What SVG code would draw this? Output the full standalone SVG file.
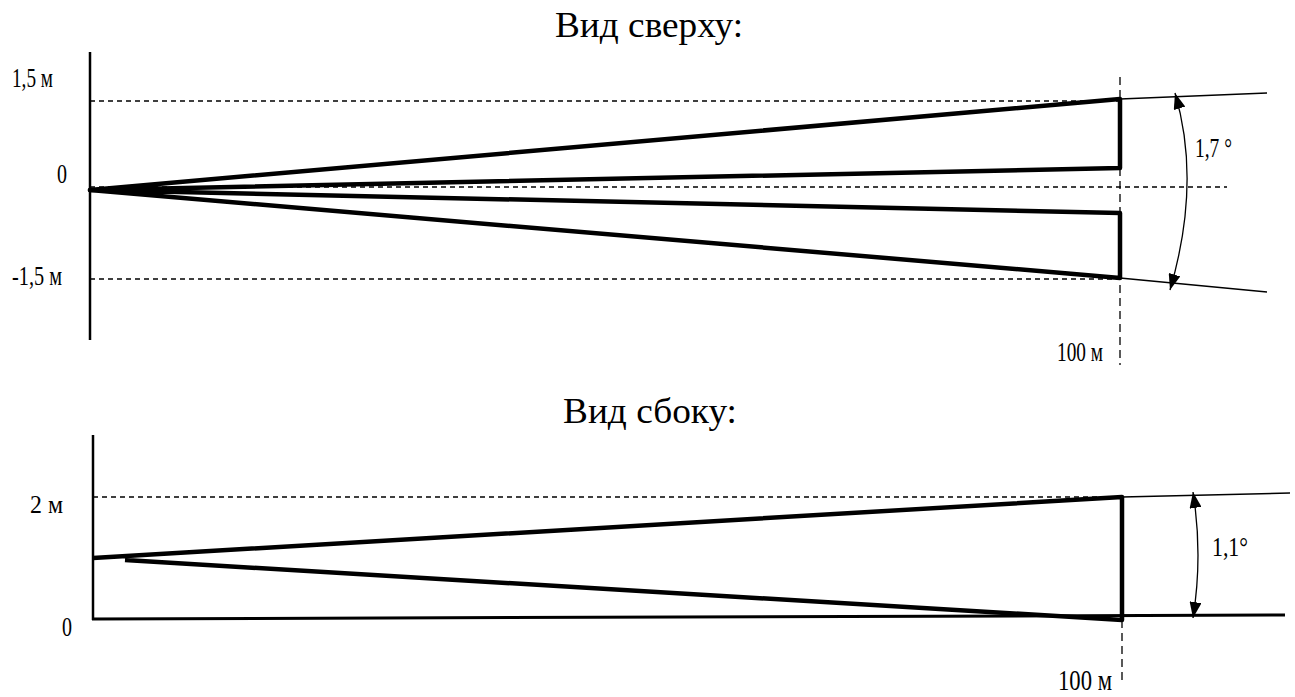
<svg xmlns="http://www.w3.org/2000/svg" width="1295" height="697" viewBox="0 0 1295 697">
<style>
text{font-family:"Liberation Serif","Times New Roman",serif;fill:#000}
.title{font-size:36px}
.lbl{font-size:27px}
.axis{stroke:#000;stroke-width:2.5;fill:none}
.dash{stroke:#000;stroke-width:1.3;stroke-dasharray:5 4;fill:none}
.vdash{stroke:#000;stroke-width:1.3;stroke-dasharray:8 5;fill:none}
.beam{stroke:#000;stroke-width:4.5;fill:none;stroke-linejoin:round}
.thin{stroke:#000;stroke-width:1.5;fill:none}
.arc{stroke:#000;stroke-width:1.3;fill:none;marker-start:url(#ah);marker-end:url(#ah)}
</style>
<defs>
<marker id="ah" markerUnits="userSpaceOnUse" markerWidth="18" markerHeight="12" refX="16" refY="6" orient="auto-start-reverse">
<path d="M0,0 L16,6 L0,12 z" fill="#000"/>
</marker>
</defs>
<rect width="1295" height="697" fill="#fff"/>
<g id="top-view">
<text class="title" x="649" y="37" text-anchor="middle" textLength="188" lengthAdjust="spacingAndGlyphs">Вид сверху:</text>
<g id="top-axes">
<line class="axis" x1="90" y1="52" x2="90" y2="340"/>
<line class="dash" x1="90" y1="101" x2="1120" y2="101"/>
<line class="dash" x1="90" y1="279" x2="1120" y2="279"/>
<line class="dash" x1="90" y1="187" x2="1227" y2="187"/>
<line class="vdash" x1="1120" y1="77" x2="1120" y2="365"/>
</g>
<g id="top-labels">
<text class="lbl" x="12" y="87" textLength="41" lengthAdjust="spacingAndGlyphs">1,5 м</text>
<text class="lbl" x="57" y="183" textLength="10" lengthAdjust="spacingAndGlyphs">0</text>
<text class="lbl" x="12" y="285" textLength="50" lengthAdjust="spacingAndGlyphs">-1,5 м</text>
<text class="lbl" x="1057" y="361" textLength="46" lengthAdjust="spacingAndGlyphs">100 м</text>
<text class="lbl" x="1195" y="157" textLength="37" lengthAdjust="spacingAndGlyphs">1,7 °</text>
</g>
<g id="top-beams">
<path class="beam" d="M90,190 L1120,99 L1120,168 Z"/>
<path class="beam" d="M90,190 L1120,213 L1120,278 Z"/>
</g>
<g id="top-connectors">
<line class="thin" x1="1120" y1="99" x2="1267" y2="93"/>
<line class="thin" x1="1120" y1="278" x2="1267" y2="292"/>
<path class="arc" d="M1175,93 Q1201.5,182.5 1170,290"/>
</g>
</g>
<g id="side-view">
<text class="title" x="650" y="423" text-anchor="middle" textLength="174" lengthAdjust="spacingAndGlyphs">Вид сбоку:</text>
<g id="side-axes">
<line class="axis" x1="93" y1="435" x2="93" y2="620"/>
<line class="axis" x1="92" y1="619" x2="1285" y2="615" style="stroke-width:3"/>
<line class="dash" x1="93" y1="497" x2="1122" y2="497"/>
<line class="vdash" x1="1122" y1="620" x2="1122" y2="680"/>
</g>
<g id="side-labels">
<text class="lbl" x="30" y="513" textLength="33" lengthAdjust="spacingAndGlyphs" style="font-size:25px">2 м</text>
<text class="lbl" x="62" y="636" textLength="10" lengthAdjust="spacingAndGlyphs" style="font-size:28px">0</text>
<text class="lbl" x="1058" y="690" textLength="54" lengthAdjust="spacingAndGlyphs" style="font-size:29px">100 м</text>
<text class="lbl" x="1212" y="556" textLength="36" lengthAdjust="spacingAndGlyphs" style="font-size:28px">1,1°</text>
</g>
<g id="side-beam">
<path class="beam" d="M93,558 L1122,497 L1122,620 L125,560"/>
</g>
<g id="side-connectors">
<line class="thin" x1="1122" y1="497" x2="1290" y2="493"/>
<path class="arc" d="M1193,492 Q1203,555 1193,618"/>
</g>
</g>
</svg>
